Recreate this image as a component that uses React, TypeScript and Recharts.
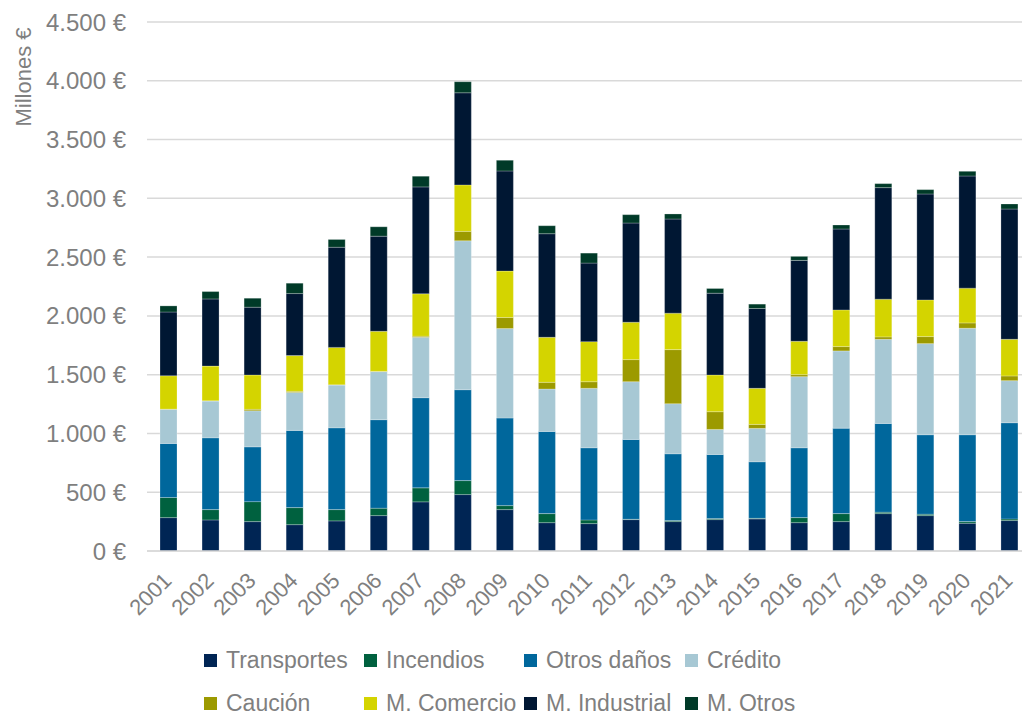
import { BarChart, Bar, XAxis, YAxis, CartesianGrid, Legend } from 'recharts';

const years = [
  '2001', '2002', '2003', '2004', '2005', '2006', '2007', '2008', '2009', '2010', '2011',
  '2012', '2013', '2014', '2015', '2016', '2017', '2018', '2019', '2020', '2021',
];

// millones de euros
const transportes = [284, 264, 250, 224, 256, 301, 418, 480, 352, 241, 233, 267, 250, 267, 273, 241, 250, 318, 301, 236, 259];
const incendios = [171, 88, 170, 145, 96, 63, 119, 119, 34, 77, 31, 3, 9, 9, 5, 43, 68, 12, 12, 14, 14];
const otrosDanos = [460, 611, 466, 657, 696, 753, 767, 773, 745, 699, 614, 679, 568, 545, 481, 594, 727, 755, 676, 739, 818];
const credito = [290, 313, 307, 323, 364, 409, 514, 1267, 761, 361, 506, 491, 426, 213, 284, 605, 657, 716, 775, 906, 358];
const caucion = [2, 2, 12, 9, 2, 2, 9, 80, 94, 57, 56, 188, 460, 151, 34, 17, 37, 20, 60, 45, 40];
const mComercio = [284, 295, 292, 304, 318, 341, 361, 395, 395, 383, 341, 318, 310, 312, 307, 284, 312, 321, 312, 296, 312];
const mIndustrial = [542, 571, 577, 528, 852, 809, 909, 784, 852, 881, 668, 844, 801, 696, 679, 688, 688, 949, 901, 954, 1108];
const mOtros = [52, 63, 77, 88, 66, 80, 91, 94, 91, 68, 85, 71, 43, 40, 37, 34, 34, 34, 37, 40, 43];

const yTicks = [0, 500, 1000, 1500, 2000, 2500, 3000, 3500, 4000, 4500];

const series = [
  { key: 'transportes', label: 'Transportes', color: '#002554', values: transportes },
  { key: 'incendios', label: 'Incendios', color: '#00613f', values: incendios },
  { key: 'otrosDanos', label: 'Otros daños', color: '#00679c', values: otrosDanos },
  { key: 'credito', label: 'Crédito', color: '#a7c8d4', values: credito },
  { key: 'caucion', label: 'Caución', color: '#9c9a00', values: caucion },
  { key: 'mComercio', label: 'M. Comercio', color: '#d4d400', values: mComercio },
  { key: 'mIndustrial', label: 'M. Industrial', color: '#001733', values: mIndustrial },
  { key: 'mOtros', label: 'M. Otros', color: '#003a28', values: mOtros },
];

const data = years.map((year, i) => {
  const row: Record<string, string | number> = { year };
  series.forEach((s) => {
    row[s.key] = s.values[i];
  });
  return row;
});

const font = '"Liberation Sans", Arial, sans-serif';
const textColor = '#7f7f7f';

function euro(v: number) {
  const s = String(v).replace(/\B(?=(\d{3})+(?!\d))/g, '.');
  return `${s} €`;
}

function YearTick({ x, y, payload }: any) {
  const ax = x + 5;
  const ay = y + 23;
  return (
    <text
      x={ax}
      y={ay}
      textAnchor="end"
      fill={textColor}
      fontSize={22}
      fontFamily={font}
      transform={`rotate(-45, ${ax}, ${ay})`}
    >
      {payload.value}
    </text>
  );
}

const legendCols = [204, 364, 524, 685];
const legendRows = [660, 703];

function LegendBox() {
  return (
    <div style={{ position: 'relative', width: 1022, height: 75 }}>
      {series.map((s, i) => {
        const left = legendCols[i % 4];
        const top = legendRows[Math.floor(i / 4)] - 640;
        return (
          <div
            key={s.key}
            style={{
              position: 'absolute',
              left,
              top: top - 14,
              height: 28,
              display: 'flex',
              alignItems: 'center',
              whiteSpace: 'nowrap',
            }}
          >
            <span style={{ width: 13, height: 13, background: s.color, display: 'inline-block' }} />
            <span style={{ marginLeft: 9, fontSize: 23, color: textColor, fontFamily: font }}>{s.label}</span>
          </div>
        );
      })}
    </div>
  );
}

export default function App() {
  return (
    <div
      style={{
        position: 'absolute',
        left: 0,
        top: 0,
        width: 1022,
        height: 715,
        overflow: 'hidden',
        background: '#fff',
      }}
    >
      <BarChart
        width={1040}
        height={715}
        data={data}
        margin={{ top: 22, right: 10, left: 0, bottom: 84 }}
        barSize={17}
      >
        <CartesianGrid stroke="#d9d9d9" strokeWidth={1.5} vertical={false} />
        <XAxis
          dataKey="year"
          height={80}
          interval={0}
          tickLine={false}
          axisLine={{ stroke: '#d9d9d9', strokeWidth: 1.5 }}
          tick={<YearTick />}
        />
        <YAxis
          width={147}
          domain={[0, 4500]}
          ticks={yTicks}
          interval={0}
          tickLine={false}
          axisLine={false}
          tickMargin={15}
          tickFormatter={euro}
          tick={{ fontSize: 24, fill: textColor, fontFamily: font }}
          label={{
            value: 'Millones €',
            content: () => (
              <text
                x={23}
                y={77}
                textAnchor="middle"
                dominantBaseline="central"
                fill={textColor}
                fontSize={22}
                fontFamily={font}
                transform="rotate(-90, 23, 77)"
              >
                Millones €
              </text>
            ),
          }}
        />
        <Legend
          layout="horizontal"
          verticalAlign="middle"
          align="center"
          wrapperStyle={{ top: 640, left: 0, width: 1022 }}
          content={() => <LegendBox />}
        />
        {series.map((s) => (
          <Bar
            key={s.key}
            dataKey={s.key}
            name={s.label}
            stackId="a"
            fill={s.color}
            stroke="#ffffff"
            strokeOpacity={0.3}
            strokeWidth={0.8}
            isAnimationActive={false}
          />
        ))}
      </BarChart>
    </div>
  );
}
